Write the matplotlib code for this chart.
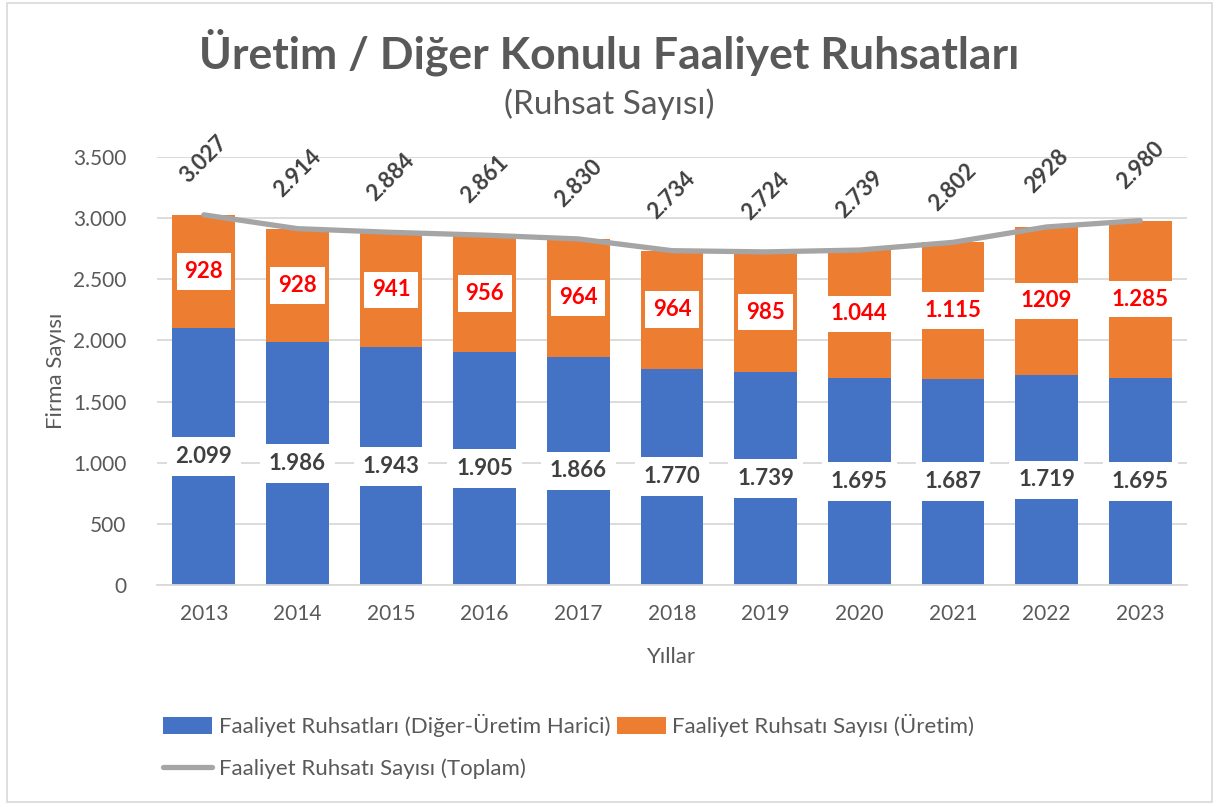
import matplotlib.pyplot as plt
from matplotlib.patches import Rectangle
import numpy as np

plt.rcParams['font.family'] = ['Lato', 'DejaVu Sans']

years = ['2013', '2014', '2015', '2016', '2017', '2018', '2019', '2020', '2021', '2022', '2023']
diger = [2099, 1986, 1943, 1905, 1866, 1770, 1739, 1695, 1687, 1719, 1695]
uretim = [928, 928, 941, 956, 964, 964, 985, 1044, 1115, 1209, 1285]
toplam = [3027, 2914, 2884, 2861, 2830, 2734, 2724, 2739, 2802, 2928, 2980]
# the source writes these ones without a thousands dot
no_dot_years = ['2022']

blue = '#4472C4'
orange = '#ED7D31'
gray = '#A5A5A5'
text_gray = '#595959'
dark = '#404040'


def fmt(v, dot=True):
    s = f'{v:,}'
    return s.replace(',', '.') if dot else s.replace(',', '')


fig = plt.figure(figsize=(12.19, 8.07), dpi=100)
ax = fig.add_axes([157/1219, 1 - 585/807, (1187-157)/1219, (585-157)/807])

x = np.arange(len(years))
w = 0.67
b1 = ax.bar(x, diger, w, color=blue, zorder=2,
            label='Faaliyet Ruhsatları (Diğer-Üretim Harici)')
b2 = ax.bar(x, uretim, w, bottom=diger, color=orange, zorder=2,
            label='Faaliyet Ruhsatı Sayısı (Üretim)')
ln, = ax.plot(x, toplam, color=gray, lw=3.8, solid_capstyle='round', zorder=3,
              label='Faaliyet Ruhsatı Sayısı (Toplam)')

for i in range(len(years)):
    ax.text(x[i], diger[i] / 2, fmt(diger[i]), ha='center', va='center',
            fontsize=16, fontweight='bold', color=dark, zorder=4,
            bbox=dict(boxstyle='square,pad=0.4', fc='white', ec='none'))
    dot = years[i] not in no_dot_years
    ax.text(x[i], diger[i] + uretim[i] / 2, fmt(uretim[i], dot), ha='center', va='center',
            fontsize=16, fontweight='bold', color='#FF0000', zorder=4,
            bbox=dict(boxstyle='square,pad=0.35', fc='white', ec='none'))
    ax.annotate(fmt(toplam[i], dot), (x[i], toplam[i]), xytext=(0, 40),
                textcoords='offset points', ha='center', va='center', rotation=45,
                fontsize=16, fontweight='bold', color=dark, zorder=4)

ax.set_xlim(-0.5, len(years) - 0.5)
ax.set_ylim(0, 3500)
ax.set_yticks(np.arange(0, 3501, 500))
ax.set_yticklabels([fmt(v) for v in range(0, 3501, 500)])
ax.set_xticks(x)
ax.set_xticklabels(years)
ax.tick_params(length=0, labelsize=15, labelcolor=text_gray)
ax.tick_params(axis='x', pad=14)
ax.tick_params(axis='y', pad=22)
ax.grid(axis='y', color='#D9D9D9', lw=1.3, zorder=0)
ax.set_axisbelow(True)
for s in ['top', 'right', 'left']:
    ax.spines[s].set_visible(False)
ax.spines['bottom'].set_color('#D9D9D9')
ax.spines['bottom'].set_linewidth(1.3)

ax.set_ylabel('Firma Sayısı', fontsize=16, color=text_gray, labelpad=5)
ax.set_xlabel('Yıllar', fontsize=16, color=text_gray, labelpad=16)

fig.text(0.5, 1 - 52/807, 'Üretim / Diğer Konulu Faaliyet Ruhsatları', ha='center', va='center',
         fontsize=32, fontweight='bold', color=text_gray)
fig.text(0.5, 1 - 104/807, '(Ruhsat Sayısı)', ha='center', va='center',
         fontsize=24, color=text_gray)

leg = fig.legend([b1, ln, b2], [b1.get_label(), ln.get_label(), b2.get_label()],
                 ncol=2, loc='upper left', bbox_to_anchor=(163/1219, 1 - 714/807),
                 frameon=False, fontsize=16, handlelength=2.2, handleheight=0.75,
                 handletextpad=0.3, columnspacing=0.3, labelspacing=0.95,
                 borderaxespad=0, borderpad=0)
for t in leg.get_texts():
    t.set_color(text_gray)

fig.patches.append(Rectangle((0.006, 0.006), 0.988, 0.99, transform=fig.transFigure,
                             fill=False, ec='#D9D9D9', lw=1.2))

fig.savefig('out.png', dpi=100)
